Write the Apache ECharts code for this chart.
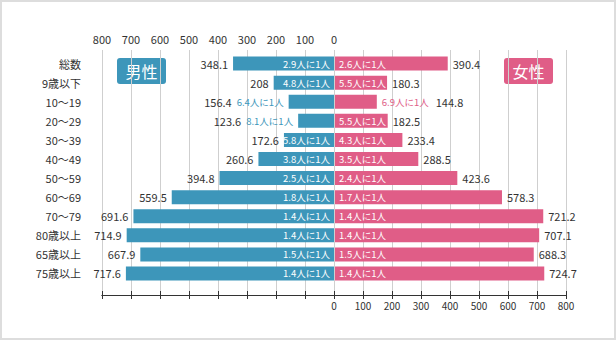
<!DOCTYPE html>
<html>
<head>
<meta charset="utf-8">
<script src="https://cdn.jsdelivr.net/npm/echarts@6/dist/echarts.min.js"></script>
<style>
html,body{margin:0;padding:0;background:#fff;}
#c{width:616px;height:340px;}
</style>
</head>
<body>
<div id="c"></div>
<script>
const categories = ['総数','9歳以下','10〜19','20〜29','30〜39','40〜49','50〜59','60〜69','70〜79','80歳以上','65歳以上','75歳以上'];
const maleValues = [348.1, 208, 156.4, 123.6, 172.6, 260.6, 394.8, 559.5, 691.6, 714.9, 667.9, 717.6];
const femaleValues = [390.4, 180.3, 144.8, 182.5, 233.4, 288.5, 423.6, 578.3, 721.2, 707.1, 688.3, 724.7];
const maleRatio = ['2.9','4.8','6.4','8.1','5.8','3.8','2.5','1.8','1.4','1.4','1.5','1.4'];
const femaleRatio = ['2.6','5.5','6.9','5.5','4.3','3.5','2.4','1.7','1.4','1.4','1.5','1.4'];
const axisTicks = [-800,-700,-600,-500,-400,-300,-200,-100,0,100,200,300,400,500,600,700,800];

const BLUE = '#3d96ba';
const PINK = '#e05d87';
const FONT = '"Noto Sans CJK JP", "Noto Sans", sans-serif';
const SHORT = 160;

const chart = echarts.init(document.getElementById('c'), null, {renderer:'svg'});

function ratioText(r){ return r + '人に1人'; }

const option = {
  backgroundColor: '#fff',
  animation: false,
  textStyle: {fontFamily: FONT},
  grid: [
    {left: 102, right: 50, top: 50, bottom: 45},
    {left: 102, width: 232, top: 54, height: 229},
    {left: 335, width: 231, top: 54, height: 229}
  ],
  xAxis: [
    {
      gridIndex: 0, type: 'value', position: 'top',
      min: axisTicks[0], max: axisTicks[axisTicks.length-1], interval: 100,
      axisLine: {show: true, lineStyle: {color: '#333', width: 1}},
      axisTick: {show: true, inside: true, length: 4, lineStyle: {color: '#333'}},
      axisLabel: {
        margin: 6, fontSize: 11, color: '#333', fontFamily: FONT,
        formatter: v => v <= 0 ? String(Math.abs(v)) : ''
      },
      splitLine: {show: true, lineStyle: {color: '#cfcfcf', width: 1}}
    },
    {
      gridIndex: 0, type: 'value', position: 'bottom',
      min: axisTicks[0], max: axisTicks[axisTicks.length-1], interval: 100,
      axisLine: {show: true, lineStyle: {color: '#333', width: 1}},
      axisTick: {show: true, inside: true, length: 4, lineStyle: {color: '#333'}},
      axisLabel: {
        margin: 5, fontSize: 10, color: '#333', fontFamily: FONT,
        formatter: v => v >= 0 ? String(v) : ''
      },
      splitLine: {show: false}
    },
    {gridIndex: 1, type: 'value', inverse: true, min: 0, max: 800, show: false},
    {gridIndex: 2, type: 'value', min: 0, max: 800, show: false}
  ],
  yAxis: [
    {gridIndex: 0, type: 'value', min: 0, max: 1, show: false},
    {
      gridIndex: 1, type: 'category', data: categories, inverse: true,
      axisLine: {show: false}, axisTick: {show: false}, splitLine: {show: false},
      axisLabel: {margin: 21, fontSize: 11, color: '#333', fontFamily: FONT}
    },
    {gridIndex: 2, type: 'category', data: categories, inverse: true, show: false}
  ],
  series: [
    {
      name: '男性', type: 'bar', xAxisIndex: 2, yAxisIndex: 1,
      data: maleValues, barWidth: 14, itemStyle: {color: BLUE},
      label: {
        show: true, position: 'insideRight', distance: 4, overflow: 'none',
        color: '#fff', fontSize: 9.5, fontFamily: FONT,
        formatter: p => p.value < SHORT ? '' : ratioText(maleRatio[p.dataIndex])
      }
    },
    {
      name: '男性値', type: 'bar', xAxisIndex: 2, yAxisIndex: 1,
      data: maleValues, barWidth: 14, barGap: '-100%', silent: true,
      itemStyle: {color: 'rgba(0,0,0,0)'},
      label: {
        show: true, position: 'left', distance: 5,
        formatter: p => p.value < SHORT
          ? '{v|' + p.value + '}{r|' + ratioText(maleRatio[p.dataIndex]) + '}'
          : '{v|' + p.value + '}',
        rich: {
          v: {color: '#333', fontSize: 11, fontFamily: FONT},
          r: {color: BLUE, fontSize: 9.5, fontFamily: FONT, padding: [0,0,0,5]}
        }
      }
    },
    {
      name: '女性', type: 'bar', xAxisIndex: 3, yAxisIndex: 2,
      data: femaleValues, barWidth: 14, itemStyle: {color: PINK},
      label: {
        show: true, position: 'insideLeft', distance: 4, overflow: 'none',
        color: '#fff', fontSize: 9.5, fontFamily: FONT,
        formatter: p => p.value < SHORT ? '' : ratioText(femaleRatio[p.dataIndex])
      }
    },
    {
      name: '女性値', type: 'bar', xAxisIndex: 3, yAxisIndex: 2,
      data: femaleValues, barWidth: 14, barGap: '-100%', silent: true,
      itemStyle: {color: 'rgba(0,0,0,0)'},
      label: {
        show: true, position: 'right', distance: 5,
        formatter: p => p.value < SHORT
          ? '{r|' + ratioText(femaleRatio[p.dataIndex]) + '}{v|' + p.value + '}'
          : '{v|' + p.value + '}',
        rich: {
          v: {color: '#333', fontSize: 11, fontFamily: FONT},
          r: {color: PINK, fontSize: 9.5, fontFamily: FONT, padding: [0,7,0,0]}
        }
      }
    }
  ],
  graphic: [
    {
      type: 'rect', z: 100, silent: true,
      shape: {x: 1, y: 1, width: 614, height: 338},
      style: {fill: 'none', stroke: '#dddddd', lineWidth: 2}
    },
    {
      type: 'group', left: 117, top: 58, z: 100,
      children: [
        {type: 'rect', shape: {x: 0, y: 0, width: 49, height: 26, r: 3}, style: {fill: BLUE}},
        {type: 'text', x: 24.5, y: 13, style: {text: '男性', fill: '#fff', font: '16px ' + FONT, align: 'center', verticalAlign: 'middle'}}
      ]
    },
    {
      type: 'group', left: 504, top: 58, z: 100,
      children: [
        {type: 'rect', shape: {x: 0, y: 0, width: 49, height: 26, r: 3}, style: {fill: PINK}},
        {type: 'text', x: 24.5, y: 13, style: {text: '女性', fill: '#fff', font: '16px ' + FONT, align: 'center', verticalAlign: 'middle'}}
      ]
    }
  ]
};
chart.setOption(option);
</script>
</body>
</html>
